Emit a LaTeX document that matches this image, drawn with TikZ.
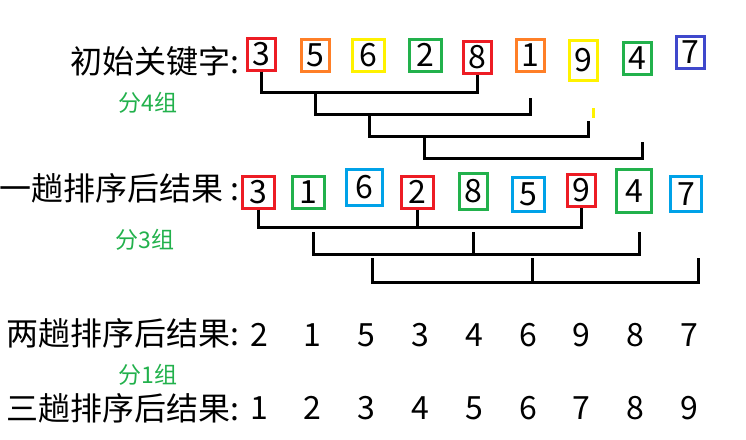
\documentclass[tikz,border=0pt]{standalone}
\usepackage{fontspec}
\setmainfont{Noto Sans CJK SC}
\definecolor{cR}{HTML}{ED1C24}
\definecolor{cO}{HTML}{FF7F27}
\definecolor{cY}{HTML}{FFF200}
\definecolor{cG}{HTML}{22B14C}
\definecolor{cB}{HTML}{3F48CC}
\definecolor{cC}{HTML}{00A2E8}
\begin{document}
\begin{tikzpicture}[x=1pt,y=-1pt,
 num/.style={font=\fontsize{32}{32}\selectfont, inner sep=0pt},
 bx/.style={num, draw=#1, line width=3pt, minimum width=28, minimum height=32},
 lab/.style={font=\fontsize{32}{32}\selectfont, anchor=east, inner sep=0pt},
 grp/.style={font=\fontsize{23}{23}\selectfont, text=cG, inner sep=0pt},
 br/.style={line width=3pt, black}]
\useasboundingbox (0,0) rectangle (746,439);
% row 1
\node[lab] (l1) at (240,61) {初始关键字:};
\node[bx=cR] (a1) at (261,54) {3};
\node[bx=cO] (a2) at (315,55) {5};
\node[bx=cY, minimum width=32] (a3) at (368,55) {6};
\node[bx=cG, minimum width=32] (a4) at (425,55) {2};
\node[bx=cR] (a5) at (477,57) {8};
\node[bx=cO] (a6) at (530,55) {1};
\node[bx=cY, minimum height=40] (a7) at (583,60) {9};
\node[bx=cG] (a8) at (637,58) {4};
\node[bx=cB] (a9) at (690,52) {7};
\node[grp] (g1) at (148,103) {分4组};
\coordinate (p2s) at (315,92); \coordinate (p2e) at (530,98);
\coordinate (p3s) at (369,114); \coordinate (p3e) at (588,121);
\coordinate (p4s) at (424,136); \coordinate (p4e) at (642,142);
\coordinate (ym1) at (593,108); \coordinate (ym2) at (593,118);
\draw[br] (a1.south) |- (p2s) -| (a5.south);
\draw[br] (p2s) |- (p3s) -| (p2e);
\draw[br] (p3s) |- (p4s) -| (p3e);
\draw[br] (p4s) |- ++(0,22) -| (p4e);
\draw[line width=3pt, cY] (ym1) -- (ym2);
% row 2
\node[lab] (l2) at (240,188) {一趟排序后结果 :};
\node[bx=cR, minimum width=32] (b1) at (258,192) {3};
\node[bx=cG, minimum width=32] (b2) at (308,192) {1};
\node[bx=cC, minimum width=36, minimum height=36] (b3) at (364,187) {6};
\node[bx=cR, minimum width=32] (b4) at (417,192) {2};
\node[bx=cG, minimum height=36] (b5) at (473,191) {8};
\node[bx=cC, minimum width=32, minimum height=34] (b6) at (528,194) {5};
\node[bx=cR] (b7) at (581,190) {9};
\node[bx=cG, minimum width=35, minimum height=43] (b8) at (634,191) {4};
\node[bx=cC, minimum width=31, minimum height=35] (b9) at (686,194) {7};
\node[grp] (g2) at (145,240) {分3组};
\coordinate (q1) at (258,227);
\coordinate (q2s) at (313,232); \coordinate (q2m) at (473,232); \coordinate (q2e) at (639,232);
\coordinate (q3s) at (372,258); \coordinate (q3m) at (532,258); \coordinate (q3e) at (698,258);
\draw[br] (b1.south) -- (q1) -| (b7.south);
\draw[br] (b4.south) -- (b4.south |- q1);
\draw[br] (q2s) |- ++(0,22) -| (q2e);
\draw[br] (q2m) -- ++(0,22);
\draw[br] (q3s) |- ++(0,24) -| (q3e);
\draw[br] (q3m) -- ++(0,24);
% row 3
\node[lab] (l3) at (240,333) {两趟排序后结果:};
\foreach \v [count=\i] in {2,1,5,3,4,6,9,8,7}
  \node[num] (c\i) at ({259+(\i-1)*53.8},335) {\v};
\node[grp] (g3) at (148,375) {分1组};
% row 4
\node[lab] (l4) at (240,408) {三趟排序后结果:};
\foreach \v [count=\i] in {1,2,3,4,5,6,7,8,9}
  \node[num] (d\i) at ({259+(\i-1)*53.8},408) {\v};
\end{tikzpicture}
\end{document}
